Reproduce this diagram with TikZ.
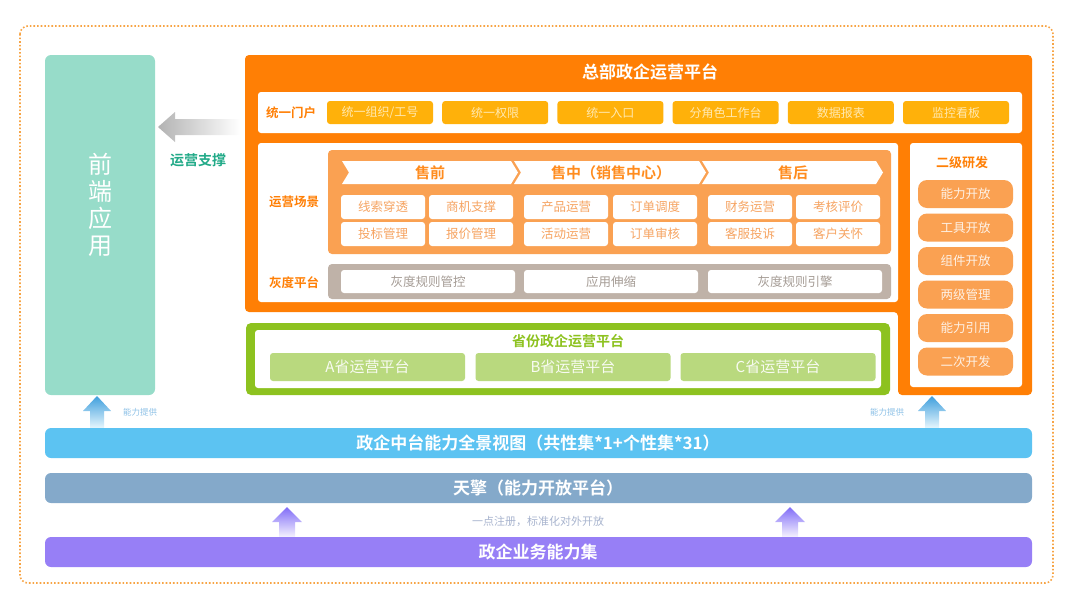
\documentclass[tikz,border=0pt]{standalone}
\usepackage{fontspec}
\setmainfont{Noto Sans CJK SC}[BoldFont={Noto Sans CJK SC Bold}]
\usepackage{xcolor}
\usepackage{tikz}
\usetikzlibrary{calc}
\usetikzlibrary{shapes,arrows,positioning}
\definecolor{hqorange}{HTML}{FF7F05}
\definecolor{btnyellow}{HTML}{FFB10A}
\definecolor{btntext}{HTML}{FFE9B0}
\definecolor{lightorange}{HTML}{FAA152}
\definecolor{celltext}{HTML}{F6A462}
\definecolor{graypanel}{HTML}{BFB2A8}
\definecolor{graytext}{HTML}{A59C95}
\definecolor{provgreen}{HTML}{8DC21F}
\definecolor{cellgreen}{HTML}{B9D97E}
\definecolor{frontteal}{HTML}{97DCC9}
\definecolor{supportgreen}{HTML}{22AA88}
\definecolor{barblue}{HTML}{5CC3F2}
\definecolor{arrowblue}{HTML}{3F9FDD}
\definecolor{barsteel}{HTML}{84A9CA}
\definecolor{barpurple}{HTML}{977FF6}
\definecolor{dotorange}{HTML}{F7A445}
\definecolor{smallblue}{HTML}{8CC0E6}
\definecolor{smallgray}{HTML}{A8B4CE}

\begin{document}
\begin{tikzpicture}[x=1pt,y=-1pt,
		btn/.style={fill=btnyellow,rounded corners=3,minimum width=106,minimum height=23,inner sep=0,text=btntext,font=\fontsize{12}{14}\selectfont},
		cell/.style={fill=white,rounded corners=3,minimum width=84,minimum height=24,inner sep=0,text=celltext,font=\fontsize{12.5}{14}\selectfont},
		graycell/.style={fill=white,rounded corners=3,minimum width=174,minimum height=23,inner sep=0,text=graytext,font=\fontsize{12.5}{14}\selectfont},
		provcell/.style={fill=cellgreen,rounded corners=3,minimum width=195,minimum height=28,inner sep=0,text=white!90!cellgreen,font=\fontsize{15}{17}\selectfont},
		pill/.style={fill=lightorange,rounded corners=9,minimum width=95,minimum height=28,inner sep=0,text=white!85!lightorange,font=\fontsize{12.5}{14}\selectfont},
		bar/.style={rounded corners=6},
		bartext/.style={text=white,font=\bfseries\fontsize{17}{20}\selectfont},
		rowlabel/.style={text=hqorange,font=\bfseries\fontsize{12.5}{14}\selectfont},
		chevtext/.style={text=hqorange!90!white,font=\bfseries\fontsize{15}{17}\selectfont}]
	\useasboundingbox (0,0) rectangle (1080,603);
	\draw[dotorange,line width=1.6pt,dotted,rounded corners=8] (20,26) rectangle (1053,583);

	% front end
	\fill[frontteal,rounded corners=6] (45,55) rectangle (155,395);
	\node[text=white,align=center,font=\fontsize{24}{27}\selectfont] (front) at (100,205) {前\\端\\应\\用};
	\shade[left color=black!30,right color=white] (158,127) -- (175,112) -- (175,119) -- (240,119) -- (240,135) -- (175,135) -- (175,142) -- cycle;
	\node[text=supportgreen,font=\bfseries\fontsize{14}{16}\selectfont] (support) at (198,160) {运营支撑};

	% headquarters platform
	\fill[hqorange,rounded corners=4] (245,55) -- (1032,55) -- (1032,395) -- (898,395) -- (898,312) -- (245,312) -- cycle;
	\node[text=white,font=\bfseries\fontsize{17}{20}\selectfont] (hq) at (650,72) {总部政企运营平台};
	\fill[white,rounded corners=3] (258,92) rectangle (1022,133);
	\node[rowlabel] (portal) at (291,112.5) {统一门户};
	\foreach \t [count=\i] in {统一组织/工号,统一权限,统一入口,分角色工作台,数据报表,监控看板}
		\node[btn] (p\i) at ({380+(\i-1)*115.2},112.5) {\t};

	\fill[white,rounded corners=3] (258,143) rectangle (898,302);
	\node[rowlabel] (scene) at (294,202) {运营场景};
	\node[rowlabel] (gray) at (294,283) {灰度平台};
	\fill[lightorange,rounded corners=4] (328,150) rectangle (891,254);
	\fill[white] (342,161) -- (511,161) -- (518,172.5) -- (511,184) -- (342,184) -- (349,172.5) -- cycle;
	\fill[white] (514,161) -- (699,161) -- (706,172.5) -- (699,184) -- (514,184) -- (521,172.5) -- cycle;
	\fill[white] (702,161) -- (876,161) -- (883,172.5) -- (876,184) -- (702,184) -- (709,172.5) -- cycle;
	\node[chevtext] (pre) at (430,172.5) {售前};
	\node[chevtext] (mid) at (611,172.5) {售中（销售中心）};
	\node[chevtext] (post) at (793,172.5) {售后};
	\node[cell] (c1) at (383,207) {线索穿透};
	\node[cell] (c2) at (471,207) {商机支撑};
	\node[cell] (c3) at (566,207) {产品运营};
	\node[cell] (c4) at (655,207) {订单调度};
	\node[cell] (c5) at (750,207) {财务运营};
	\node[cell] (c6) at (838,207) {考核评价};
	\node[cell] (c7) at (383,234) {投标管理};
	\node[cell] (c8) at (471,234) {报价管理};
	\node[cell] (c9) at (566,234) {活动运营};
	\node[cell] (c10) at (655,234) {订单审核};
	\node[cell] (c11) at (750,234) {客服投诉};
	\node[cell] (c12) at (838,234) {客户关怀};
	\fill[graypanel,rounded corners=4] (328,264) rectangle (891,299);
	\node[graycell] (g1) at (428,281.5) {灰度规则管控};
	\node[graycell] (g2) at (611,281.5) {应用伸缩};
	\node[graycell] (g3) at (795,281.5) {灰度规则引擎};

	% second level development
	\fill[white,rounded corners=3] (910,143) rectangle (1022,387);
	\node[rowlabel,font=\bfseries\fontsize{13}{15}\selectfont] (dev) at (962,163) {二级研发};
	\foreach \t [count=\i] in {能力开放,工具开放,组件开放,两级管理,能力引用,二次开发}
		\node[pill] (d\i) at (965.5,{194+(\i-1)*33.5}) {\t};

	% province platform
	\fill[provgreen,rounded corners=5] (246,323) rectangle (890,395);
	\fill[white,rounded corners=3] (255,330) rectangle (881,388);
	\node[text=provgreen,font=\bfseries\fontsize{14}{16}\selectfont] (prov) at (568,341) {省份政企运营平台};
	\node[provcell] (a) at (367.5,367) {A省运营平台};
	\node[provcell] (b) at (573,367) {B省运营平台};
	\node[provcell] (c) at (778,367) {C省运营平台};

	% capability arrows
	\foreach \x in {97,932}
		\shade[top color=arrowblue,bottom color=barblue!15!white] (\x,396) -- (\x+14,411) -- (\x+7,411) -- (\x+7,428) -- (\x-7,428) -- (\x-7,411) -- (\x-14,411) -- cycle;
	\node[text=smallblue,font=\fontsize{8.5}{9}\selectfont] (give1) at (140,412) {能力提供};
	\node[text=smallblue,font=\fontsize{8.5}{9}\selectfont] (give2) at (887,412) {能力提供};

	% bottom bars
	\fill[barblue,bar] (45,428) rectangle (1032,458);
	\node[bartext] (view) at (538,443) {政企中台能力全景视图（共性集*1+个性集*31）};
	\fill[barsteel,bar] (45,473) rectangle (1032,503);
	\node[bartext] (tq) at (538,488) {天擎（能力开放平台）};
	\foreach \x in {287,790}
		\shade[top color=barpurple!85!blue,bottom color=barpurple!10!white] (\x,507) -- (\x+15,522) -- (\x+8,522) -- (\x+8,537) -- (\x-8,537) -- (\x-8,522) -- (\x-15,522) -- cycle;
	\node[text=smallgray,font=\fontsize{11}{13}\selectfont] (reg) at (538,521) {一点注册，标准化对外开放};
	\fill[barpurple,bar] (45,537) rectangle (1032,567);
	\node[bartext] (biz) at (538,552) {政企业务能力集};
\end{tikzpicture}
\end{document}
